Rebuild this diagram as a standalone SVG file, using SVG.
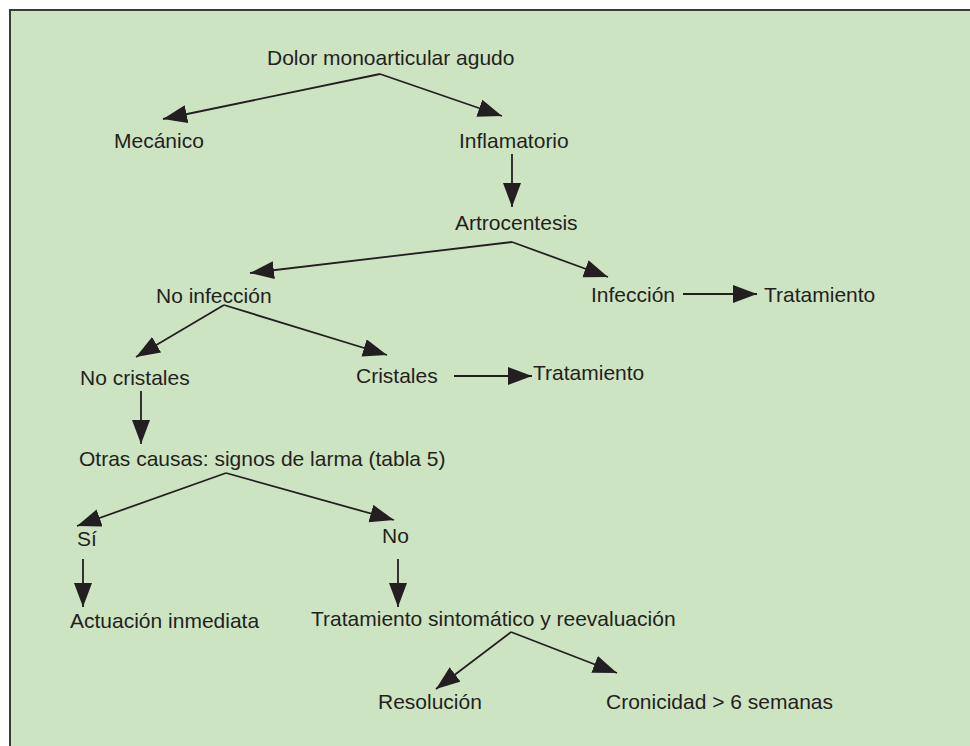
<svg xmlns="http://www.w3.org/2000/svg" width="970" height="746" viewBox="0 0 970 746">
<defs>
<style>
text{font-family:"Liberation Sans",Arial,Helvetica,sans-serif;font-size:21px;fill:#231f20}
.c line{stroke:#231f20;stroke-width:1.8;fill:none}
</style>
<marker id="ah" markerUnits="userSpaceOnUse" markerWidth="26" markerHeight="20" refX="24" refY="9" orient="auto">
<path d="M0,0 L24,9 L0,18 z" fill="#231f20"/>
</marker>
</defs>
<rect x="0" y="0" width="970" height="746" fill="#ffffff"/>
<rect x="10" y="10" width="980" height="760" fill="#cde4c3" stroke="#3a3a3a" stroke-width="2"/>
<g class="c" id="connectors">
<line x1="380" y1="74" x2="163" y2="119" marker-end="url(#ah)"/>
<line x1="380" y1="74" x2="502" y2="116" marker-end="url(#ah)"/>
<line x1="512" y1="154" x2="512" y2="207" marker-end="url(#ah)"/>
<line x1="512" y1="242" x2="250" y2="273" marker-end="url(#ah)"/>
<line x1="512" y1="242" x2="608" y2="277" marker-end="url(#ah)"/>
<line x1="224" y1="305" x2="136" y2="357" marker-end="url(#ah)"/>
<line x1="224" y1="305" x2="387" y2="355" marker-end="url(#ah)"/>
<line x1="683" y1="294" x2="757" y2="294" marker-end="url(#ah)"/>
<line x1="454" y1="376" x2="532" y2="376" marker-end="url(#ah)"/>
<line x1="141" y1="391" x2="141" y2="444" marker-end="url(#ah)"/>
<line x1="226" y1="473" x2="77" y2="526" marker-end="url(#ah)"/>
<line x1="226" y1="473" x2="394" y2="520" marker-end="url(#ah)"/>
<line x1="83" y1="559" x2="83" y2="607" marker-end="url(#ah)"/>
<line x1="398" y1="559" x2="398" y2="607" marker-end="url(#ah)"/>
<line x1="511" y1="632" x2="436" y2="689" marker-end="url(#ah)"/>
<line x1="511" y1="632" x2="617" y2="673" marker-end="url(#ah)"/>
</g>
<g id="n-dolor"><text x="267" y="65">Dolor monoarticular agudo</text></g>
<g id="n-mecanico"><text x="114" y="148">Mecánico</text></g>
<g id="n-inflamatorio"><text x="459" y="148">Inflamatorio</text></g>
<g id="n-artrocentesis"><text x="455" y="230">Artrocentesis</text></g>
<g id="n-noinfeccion"><text x="156" y="303">No infección</text></g>
<g id="n-infeccion"><text x="591" y="302">Infección</text></g>
<g id="n-tratamiento1"><text x="764" y="302">Tratamiento</text></g>
<g id="n-nocristales"><text x="80" y="385">No cristales</text></g>
<g id="n-cristales"><text x="356" y="383">Cristales</text></g>
<g id="n-tratamiento2"><text x="533" y="380">Tratamiento</text></g>
<g id="n-otras"><text x="79" y="466">Otras causas: signos de larma (tabla 5)</text></g>
<g id="n-si"><text x="77" y="546">Sí</text></g>
<g id="n-no"><text x="382" y="543">No</text></g>
<g id="n-actuacion"><text x="70" y="628">Actuación inmediata</text></g>
<g id="n-sintomatico"><text x="311" y="626">Tratamiento sintomático y reevaluación</text></g>
<g id="n-resolucion"><text x="378" y="709">Resolución</text></g>
<g id="n-cronicidad"><text x="606" y="709">Cronicidad &gt; 6 semanas</text></g>
</svg>
